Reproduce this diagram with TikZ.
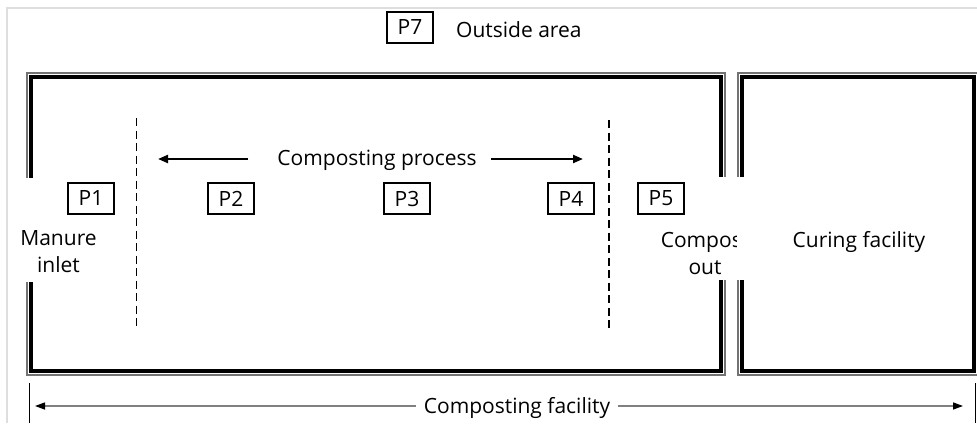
\documentclass[tikz,border=0pt]{standalone}
\usepackage{fontspec}
\setmainfont{Open Sans}
\usetikzlibrary{arrows.meta}
\begin{document}
\begin{tikzpicture}[x=1pt,y=-1pt,
  lab/.style={font=\fontsize{21}{27}\selectfont, inner sep=0pt, align=center},
  pbox/.style={draw=black, line width=1.3pt, minimum width=46pt, minimum height=31pt, inner sep=0pt, font=\fontsize{21}{23}\selectfont},
  wallblack/.style={line width=4pt, black, line join=miter},
  wallgrey/.style={line width=1.2pt, black!55, line join=miter},
  divider/.style={line width=1.8pt, dash pattern=on 8pt off 4.5pt},
  frameline/.style={line width=1.5pt, black!13},
  procarrow/.style={line width=2.2pt, -{Triangle[length=10pt,width=8pt]}},
  dimline/.style={line width=1.3pt, black!50, {Triangle[length=10pt,width=7pt,color=black]}-{Triangle[length=10pt,width=7pt,color=black]}},
  tick/.style={line width=1.4pt, black},
]
\useasboundingbox (0,0) rectangle (977,423);
\draw[frameline] (7,423) -- (7,8) -- (977,8);

% top label
\node[pbox] (p7) at (410,27.5) {P7};
\node[lab, anchor=base west] (outside) at (456,37) {Outside area};

% left box (composting facility) with openings
\draw[wallgrey] (27,178) -- (27,73) -- (725,73) -- (725,177);
\draw[wallgrey] (725,280) -- (725,375) -- (27,375) -- (27,282);
\draw[wallblack] (31,178) -- (31,77) -- (721,77) -- (721,177);
\draw[wallblack] (721,280) -- (721,371) -- (31,371) -- (31,282);

% dividers
\coordinate (d1t) at (136.5,118);
\coordinate (d1b) at (136.5,326);
\coordinate (d2t) at (609,120);
\coordinate (d2b) at (609,328);
\draw[divider] (d1t) -- (d1b);
\draw[divider] (d2t) -- (d2b);

% composting process
\node[lab, anchor=base] (cp) at (377,165) {Composting process};
\coordinate (la) at (248,159);
\coordinate (lb) at (158,159);
\coordinate (ra) at (491,159);
\coordinate (rb) at (583,159);
\draw[procarrow] (la) -- (lb);
\draw[procarrow] (ra) -- (rb);

% P boxes
\node[pbox] (p1) at (91,198.5) {P1};
\node[pbox] (p2) at (231,198.5) {P2};
\node[pbox] (p3) at (407,198.5) {P3};
\node[pbox] (p4) at (571,198.5) {P4};
\node[pbox] (p5) at (661,198.5) {P5};
\node[pbox] (p6) at (851,198.5) {P6};

\node[lab, anchor=north] (inlet) at (58.5,230) {Manure\\inlet};
\node[lab, anchor=north] (cout) at (705,232) {Compost\\out};

% right box (curing facility), white filled, covering text
\fill[white] (737,72) rectangle (977,376);
\draw[wallgrey] (738,177) -- (738,73) -- (977,73);
\draw[wallgrey] (738,280) -- (738,375) -- (977,375);
\draw[wallblack] (742,177) -- (742,77) -- (974,77) -- (974,371) -- (742,371) -- (742,280);
\node[lab, anchor=base] (curing) at (859,247) {Curing facility};

% bottom dimension
\coordinate (tl1) at (29.5,383);
\coordinate (tl2) at (29.5,423);
\coordinate (tr1) at (975.5,383);
\coordinate (tr2) at (975.5,423);
\draw[tick] (tl1) -- (tl2);
\draw[tick] (tr1) -- (tr2);
\coordinate (al) at (35,406);
\coordinate (ar) at (963,406);
\draw[dimline] (al) -- (ar);
\node[lab, anchor=base, fill=white, inner xsep=8pt, inner ysep=2pt] (cf) at (517,413) {Composting facility};
\end{tikzpicture}
\end{document}
